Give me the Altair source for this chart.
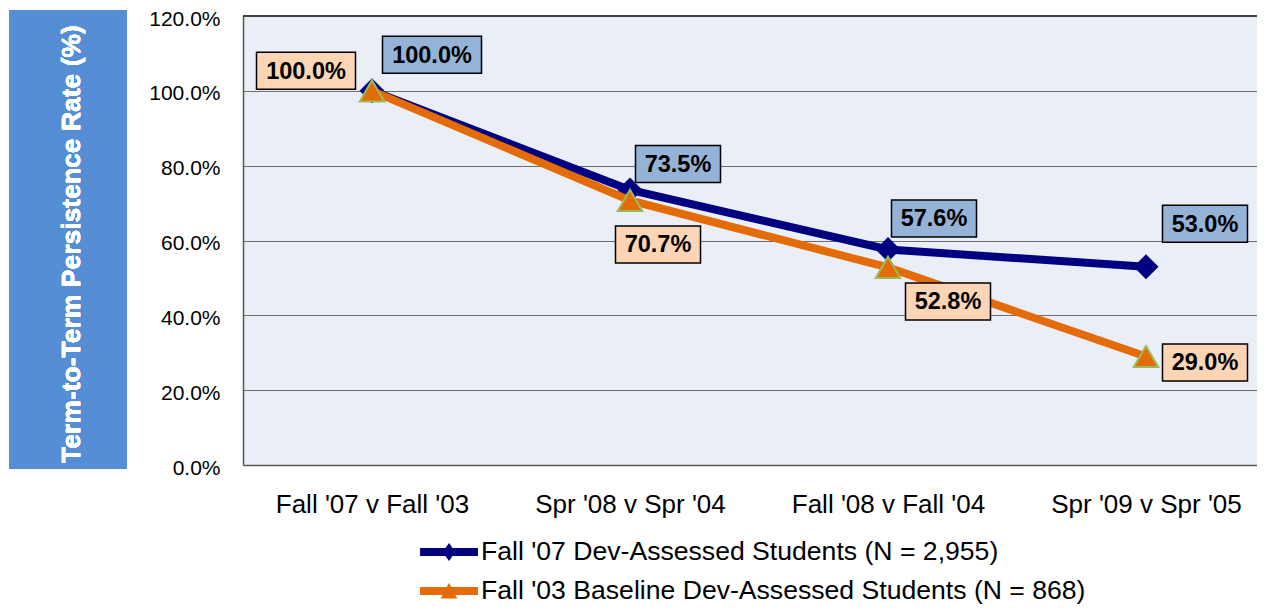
import altair as alt
import pandas as pd

# ---------------- data ----------------
categories = ["Fall '07 v Fall '03", "Spr '08 v Spr '04", "Fall '08 v Fall '04", "Spr '09 v Spr '05"]
series_names = [
    "Fall '07 Dev-Assessed Students (N = 2,955)",
    "Fall '03 Baseline Dev-Assessed Students (N = 868)",
]
fall07_rates = [1.000, 0.735, 0.576, 0.530]
fall03_rates = [1.000, 0.707, 0.528, 0.290]
y_ticks = [0.0, 0.2, 0.4, 0.6, 0.8, 1.0, 1.2]
y_title = "Term-to-Term Persistence Rate (%)"

rows = []
for s, vals in enumerate([fall07_rates, fall03_rates]):
    for i, c in enumerate(categories):
        rows.append({"category": c, "series": series_names[s], "s": s, "idx": i, "rate": vals[i]})
df = pd.DataFrame(rows)

# ---------------- style ----------------
FONT = "Liberation Sans"
NAVY = "#000080"
ORANGE = "#E36C09"
GREEN = "#9BBB59"
BLUE_BOX = "#95B3D7"
PEACH_BOX = "#FCD5B5"
TITLE_BOX = "#558ED5"
FRAME = "#555555"

# label placement (pixel offsets from each point)
BLUE_OFFSETS = [(60, -36), (48, -26), (46, -31), (59, -43)]
PEACH_OFFSETS = [(-66, -20), (28, 44), (60, 34), (59, 6)]

WIDE = "M-0.99,-0.37L0.99,-0.37L0.99,0.37L-0.99,0.37Z"
NARROW = "M-0.85,-0.37L0.85,-0.37L0.85,0.37L-0.85,0.37Z"

LEG_DIAMOND = "M-1.93,-0.27L1.93,-0.27L1.93,0.27L-1.93,0.27Z M0,-0.6L0.42,0L0,0.6L-0.42,0Z"
LEG_TRIANGLE = "M-1.93,-0.27L1.93,-0.27L1.93,0.27L-1.93,0.27Z M0,-0.55L0.55,0.5L-0.55,0.5Z"

# the category band continues past the right edge of the page, as in the original
x_scale = alt.Scale(type="point", domain=categories, range=[0, 1032], padding=0.5)
y_scale = alt.Scale(domain=[0, 1.2], nice=False)

x_enc = alt.X(
    "category:N", scale=x_scale, sort=categories,
    axis=alt.Axis(title=None, labelFontSize=26, labelFont=FONT, labelColor="black",
                  labelPadding=26, ticks=False, tickSize=0, domain=True, domainColor=FRAME,
                  domainWidth=1.5, grid=False, labelAngle=0, labelLimit=400),
)
y_enc = alt.Y(
    "rate:Q", scale=y_scale,
    axis=alt.Axis(title=None, values=y_ticks, format=".1%", labelFontSize=21, labelFont=FONT,
                  labelColor="black", labelPadding=23, labelOffset=3, ticks=False, tickSize=0,
                  domain=True, domainColor=FRAME, domainWidth=1.5,
                  grid=True, gridColor="#6e6e6e", gridWidth=1),
)

base = alt.Chart(df)

# y-axis title box + text (decoration left of the plot)
title_box = base.mark_rect(color=TITLE_BOX).encode(
    x=alt.value(-234), x2=alt.value(-116), y=alt.value(-6), y2=alt.value(453)
)
title_text = base.mark_text(
    text=y_title, angle=270, font=FONT, fontSize=26.5, fontWeight="bold", color="white",
    align="center", baseline="middle",
).encode(x=alt.value(-171), y=alt.value(228))

# top frame line of the plot area
top_frame = base.mark_rule(color="#404040", strokeWidth=2).encode(
    x=alt.value(0), x2=alt.value(1040), y=alt.value(0)
)

legend = alt.Legend(
    title=None, orient="none", legendX=191, legendY=521, direction="vertical",
    labelFontSize=26.6, labelFont=FONT, labelColor="black", labelLimit=1000,
    symbolSize=900, labelOffset=17, rowPadding=10, padding=0, symbolStrokeWidth=0,
    symbolOpacity=1,
)

# legend-only layer (no rows drawn; entries come from the explicit scale domains)
legend_layer = base.transform_filter("false").mark_point(filled=True, opacity=1, strokeWidth=0).encode(
    x=x_enc, y=y_enc,
    color=alt.Color("series:N", sort=series_names,
                    scale=alt.Scale(domain=series_names, range=[NAVY, ORANGE]), legend=legend),
    shape=alt.Shape("series:N", sort=series_names,
                    scale=alt.Scale(domain=series_names, range=[LEG_DIAMOND, LEG_TRIANGLE]),
                    legend=legend),
)

line07 = base.transform_filter("datum.s == 0").mark_line(strokeWidth=8, color=NAVY).encode(x=x_enc, y=y_enc)
line03 = base.transform_filter("datum.s == 1").mark_line(strokeWidth=8, color=ORANGE).encode(x=x_enc, y=y_enc)

diamonds = base.transform_filter("datum.s == 0").mark_point(
    shape="diamond", filled=True, fill=NAVY, stroke=NAVY, strokeWidth=0, size=625, opacity=1
).encode(x=x_enc, y=y_enc)

triangles = base.transform_filter("datum.s == 1").mark_point(
    shape="triangle-up", filled=True, fill=ORANGE, stroke=GREEN, strokeWidth=2, size=600, opacity=1
).encode(x=x_enc, y=y_enc)

label_layers = []
for s, offsets, fill in [(0, BLUE_OFFSETS, BLUE_BOX), (1, PEACH_OFFSETS, PEACH_BOX)]:
    for i, (dx, dy) in enumerate(offsets):
        lb = base.transform_filter(f"datum.s == {s} && datum.idx == {i}").transform_calculate(
            label="format(datum.rate, '.1%')"
        ).transform_calculate(
            box=f"length(datum.label) > 5 ? '{WIDE}' : '{NARROW}'"
        )
        box = lb.mark_point(
            filled=True, fill=fill, stroke="black", strokeWidth=1.5, size=10000, opacity=1,
            xOffset=dx, yOffset=dy,
        ).encode(x=x_enc, y=y_enc, shape=alt.Shape("box:N", scale=None, legend=None))
        txt = lb.mark_text(
            font=FONT, fontSize=23.5, fontWeight="bold", color="black", align="center",
            baseline="middle", xOffset=dx, yOffset=dy + 1,
        ).encode(x=x_enc, y=y_enc, text="label:N")
        label_layers += [box, txt]

chart = alt.layer(
    title_box, title_text, legend_layer, line07, diamonds, line03, triangles,
    *label_layers, top_frame,
).properties(
    width=1014, height=449,
    autosize=alt.AutoSizeParams(type="none"),
    padding={"left": 235, "top": 8, "right": 0, "bottom": 139},
    background="white",
).configure_view(
    fill="#EAEFF7", stroke=None
)

chart.save("out.html", embed_options={"renderer": "svg", "actions": False})
